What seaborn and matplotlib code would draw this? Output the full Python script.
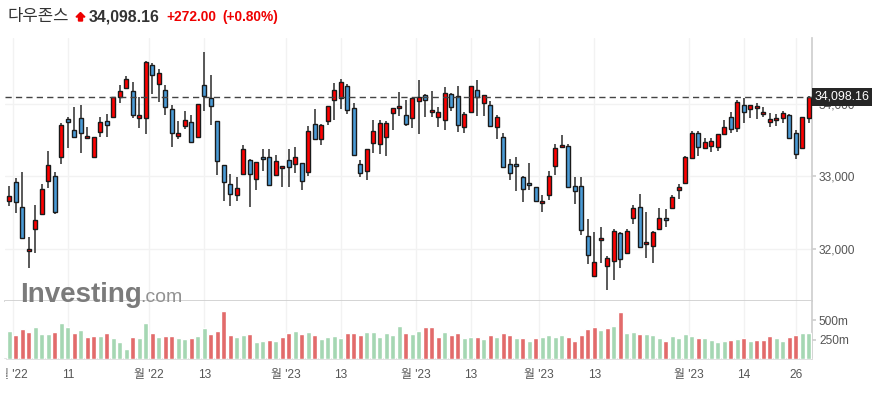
import numpy as np
import pandas as pd
import matplotlib
matplotlib.use('Agg')
import matplotlib.pyplot as plt
from matplotlib.patches import Polygon, Rectangle
import seaborn as sns

# Dow Jones daily candles, 31 Oct 2022 .. 28 Apr 2023
opens = [32667, 32919, 32575, 31968, 32271, 32478, 32933, 33002, 33264, 33788,
         33637, 33802, 33526, 33273, 33614, 33765, 33816, 34092, 34216, 34175,
         33811, 33802, 34533, 34276, 34188, 33926, 33554, 33692, 33747, 33540,
         34262, 34078, 33761, 33154, 32892, 32740, 33030, 33223, 32961, 33264,
         33264, 33016, 33112, 33223, 33168, 33181, 33057, 33719, 33512, 33761,
         34050, 34078, 34244, 33940, 33168, 33071, 33457, 33444, 33540, 33871,
         33940, 33844, 33802, 34037, 34119, 33885, 33816, 33775, 34133, 34106,
         33678, 33885, 34188, 34009, 33982, 33678, 33540, 33168, 33168, 32988,
         32906, 32850, 32630, 32740, 33140, 33402, 33416, 32864, 32864, 32175,
         31623, 32119, 31761, 31830, 32216, 31940, 32423, 32575, 32064, 32037,
         32271, 32423, 32561, 32809, 32906, 33250, 33595, 33388, 33416, 33402,
         33582, 33816, 33664, 33982, 33926, 33940, 33857, 33747, 33775, 33802,
         33844, 33595, 33388, 33802]
highs = [32873, 32975, 33057, 32170, 32602, 32892, 33352, 33057, 33733, 33825,
         33954, 33982, 33678, 33549, 33816, 33857, 34098, 34262, 34386, 34299,
         34101, 34589, 34570, 34478, 34262, 33986, 33765, 33899, 33844, 34000,
         34713, 34395, 33770, 33165, 33030, 32988, 33430, 33235, 33195, 33375,
         33375, 33292, 33150, 33375, 33402, 33190, 33692, 33926, 33719, 33975,
         34285, 34340, 34271, 34009, 33223, 33385, 33775, 33775, 33761, 33950,
         34161, 34050, 34085, 34326, 34133, 34175, 33954, 34230, 34147, 34244,
         33885, 34250, 34326, 34128, 34037, 33844, 33595, 33237, 33264, 33000,
         33181, 32860, 32740, 33071, 33444, 33568, 33444, 32988, 32988, 32409,
         32230, 32299, 31899, 32271, 32230, 32271, 32602, 32754, 32506, 32243,
         32561, 32547, 32740, 32892, 33278, 33623, 33623, 33526, 33526, 33590,
         33775, 33885, 34050, 34078, 33990, 34009, 33954, 33871, 33857, 33899,
         33857, 33637, 33826, 34110]
lows = [32593, 32492, 32140, 31733, 31940, 32469, 32837, 32478, 33168, 33388,
        33535, 33319, 33522, 33250, 33540, 33549, 33800, 34009, 34202, 33802,
        33664, 33582, 34133, 34032, 33844, 33411, 33512, 33650, 33460, 33530,
        33899, 33706, 33016, 32657, 32588, 32657, 33020, 32575, 32809, 33071,
        32870, 33010, 32850, 32850, 33043, 32809, 33002, 33499, 33430, 33706,
        33775, 33926, 33857, 33278, 32988, 32947, 33319, 33306, 33278, 33637,
        33830, 33692, 33664, 33582, 33816, 33816, 33678, 33637, 33899, 33609,
        33595, 33870, 33830, 33830, 33680, 33512, 33112, 32947, 32795, 32643,
        32809, 32643, 32506, 32671, 33016, 33388, 32837, 32616, 32188, 31788,
        31615, 31802, 31434, 31568, 31733, 31930, 32340, 32015, 31871, 31802,
        32260, 32299, 32547, 32685, 32895, 33240, 33278, 33375, 33333, 33347,
        33575, 33595, 33609, 33733, 33802, 33788, 33816, 33678, 33692, 33733,
        33515, 33237, 33375, 33733]
closes = [32726, 32653, 32147, 31995, 32395, 32823, 33154, 32515, 33706, 33752,
          33540, 33595, 33554, 33540, 33747, 33706, 34092, 34184, 34340, 33844,
          33852, 34575, 34395, 34423, 33954, 33595, 33598, 33775, 33471, 33995,
          34106, 33968, 33209, 32919, 32754, 32837, 33375, 33030, 33195, 33237,
          32878, 33209, 33147, 33136, 33264, 32933, 33623, 33512, 33706, 33968,
          34188, 34299, 33913, 33292, 33043, 33375, 33623, 33733, 33743, 33940,
          33968, 33719, 34078, 34092, 34050, 33913, 33885, 34147, 33954, 33706,
          33857, 34244, 34092, 34119, 33692, 33816, 33126, 33043, 33140, 32823,
          32878, 32657, 32662, 33002, 33388, 33430, 32850, 32795, 32257, 31912,
          31816, 32147, 31871, 32243, 31857, 32243, 32561, 32023, 32092, 32230,
          32423, 32395, 32713, 32850, 33264, 33595, 33402, 33471, 33485, 33582,
          33678, 33650, 34023, 33885, 33982, 33968, 33885, 33788, 33802, 33871,
          33526, 33306, 33816, 34098.16]
# volume in millions
volumes = [358, 307, 384, 345, 409, 320, 320, 345, 460, 409,
           332, 371, 281, 294, 294, 332, 268, 217, 128, 281,
           268, 460, 332, 281, 294, 294, 268, 256, 268, 294,
           397, 320, 358, 614, 307, 281, 307, 320, 217, 230,
           243, 230, 281, 332, 358, 320, 345, 307, 256, 281,
           294, 268, 332, 332, 307, 345, 345, 281, 332, 307,
           422, 332, 320, 358, 409, 409, 281, 345, 307, 332,
           268, 281, 281, 256, 307, 281, 332, 307, 268, 268,
           230, 268, 281, 307, 281, 307, 281, 230, 307, 384,
           409, 371, 397, 422, 601, 332, 345, 320, 320, 307,
           268, 230, 294, 268, 320, 294, 268, 268, 243, 217,
           230, 243, 256, 268, 230, 243, 243, 294, 268, 230,
           281, 307, 332, 332]

# date ticks (trading-day index) and their labels
tick_idx = [0.5, 9, 21.5, 30, 42.5, 51, 62.5, 71, 81.5, 90, 104.5, 113, 121]
tick_labels = ["월 '22", "11", "월 '22", "13", "월 '23", "13", "월 '23", "13",
               "월 '23", "13", "월 '23", "14", "26"]

last_price = closes[-1]
change = 272.00
change_pct = 0.80

df = pd.DataFrame({'o': opens, 'h': highs, 'l': lows, 'c': closes, 'vol': volumes})
df['idx'] = np.arange(len(df))
prev = df['c'].shift(1).fillna(df['o'])
df['dir'] = np.where(df['c'] >= prev, 'up', 'down')

sns.set_theme(style='white')
plt.rcParams['font.family'] = ['Liberation Sans', 'Noto Sans CJK KR']

W, H = 879, 393
fig = plt.figure(figsize=(W / 100, H / 100), dpi=100)
left, right = 5, 812
ax = fig.add_axes([left / W, (H - 301) / H, (right - left) / W, (301 - 38) / H])
axv = fig.add_axes([left / W, (H - 359.3) / H, (right - left) / W, (359.3 - 301) / H], sharex=ax)

grid_c = '#f2f2f2'
line_c = '#cfcfcf'

# candles
up = df['c'] > df['o']
body_lo = np.minimum(df['o'], df['c'])
body_h = np.maximum((df['c'] - df['o']).abs(), 22)
ax.vlines(df['idx'], df['l'], df['h'], color='#2b2b2b', lw=1.1, zorder=2)
ax.bar(df['idx'], body_h, bottom=body_lo, width=0.64,
       color=np.where(up, '#ff0000', '#4a9bd6'), edgecolor='#1a1a1a', linewidth=1.0, zorder=3)

ax.axhline(last_price, color='#444444', lw=1, ls=(0, (4.5, 3)), zorder=4)
ax.set_ylim(31283, 34910)
ax.set_xlim(-0.66, 123.5)
ax.set_yticks([32000, 33000, 34000])
ax.set_yticklabels(['32,000', '33,000', '34,000'])
ax.yaxis.tick_right()
ax.tick_params(axis='y', length=3, color=line_c, labelsize=8.6, labelcolor='#555555', pad=2)
ax.tick_params(axis='x', length=0, labelbottom=False)
ax.grid(True, color=grid_c, lw=1)
for s in ['top', 'left']:
    ax.spines[s].set_visible(False)
ax.spines['right'].set_color(line_c)
ax.spines['bottom'].set_color(line_c)

ax.annotate(f'{last_price:,.2f}', xy=(1, last_price), xycoords=ax.get_yaxis_transform(),
            xytext=(1.8, 0), textcoords='offset points', ha='left', va='center',
            color='white', fontsize=8.9, annotation_clip=False, zorder=6,
            bbox=dict(boxstyle='square,pad=0.22', fc='#262626', ec='none'))

# volume
sns.barplot(data=df, x='idx', y='vol', hue='dir', palette={'up': '#a5d7b3', 'down': '#e26b6b'},
            native_scale=True, width=0.78, dodge=False, saturation=1, errorbar=None,
            legend=False, ax=axv, zorder=3)
axv.set_ylim(0, 746)
axv.set_xlim(-0.66, 123.5)
axv.set_yticks([250, 500])
axv.set_yticklabels(['250m', '500m'])
axv.yaxis.tick_right()
axv.set_xticks(tick_idx)
axv.set_xticklabels(tick_labels)
axv.set_xlabel('')
axv.set_ylabel('')
axv.tick_params(axis='y', length=3, color=line_c, labelsize=8.6, labelcolor='#555555', pad=2)
axv.tick_params(axis='x', length=4, color='#dddddd', labelsize=8.6, labelcolor='#555555', pad=3)
axv.grid(True, axis='x', color=grid_c, lw=1)
axv.grid(False, axis='y')
for s in ['top', 'left']:
    axv.spines[s].set_visible(False)
axv.spines['right'].set_color(line_c)
axv.spines['bottom'].set_color('#dddddd')

ax.set_xticks(tick_idx)

# left edge of the date labels is cut off in the source widget
fig.add_artist(Rectangle((0, 0), left / W, 34 / H, transform=fig.transFigure,
                         color='white', zorder=10))

# watermark
fig.text(20 / W, 1 - 302 / H, 'Investing', fontsize=20, fontweight='bold',
         color='#7b7b7b', va='baseline', zorder=1)
fig.text(140 / W, 1 - 302 / H, '.com', fontsize=14, color='#929292', va='baseline', zorder=1)

# header
yc = 1 - 17 / H
fig.text(8 / W, yc, '다우존스', fontsize=12, color='#333333', va='center',
         family=['Noto Sans CJK KR', 'DejaVu Sans'])
arrow = [(76, 17), (80.5, 12.5), (85, 17), (82.5, 17), (82.5, 21), (78.5, 21), (78.5, 17)]
fig.add_artist(Polygon([(x / W, 1 - y / H) for x, y in arrow], closed=True,
                       transform=fig.transFigure, color='#ee0000'))
fig.text(89 / W, yc, f'{last_price:,.2f}', fontsize=11.4, fontweight='bold', color='#333333', va='center')
fig.text(166 / W, yc, f'+{change:.2f}', fontsize=9.9, fontweight='bold', color='#ee0000', va='center')
fig.text(222 / W, yc, f'(+{change_pct:.2f}%)', fontsize=9.9, fontweight='bold', color='#ee0000', va='center')

fig.savefig('out.png', dpi=100)
